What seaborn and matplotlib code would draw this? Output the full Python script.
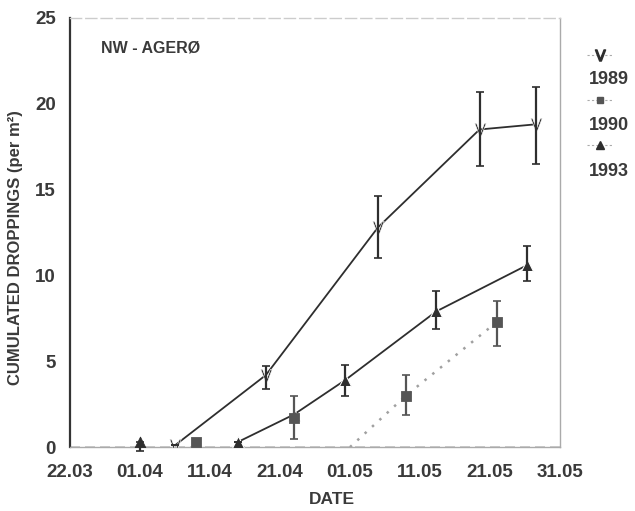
import numpy as np
import pandas as pd
import seaborn as sns
import matplotlib.pyplot as plt
from matplotlib.lines import Line2D

# days counted from 22.03
tick_days = [0, 10, 20, 30, 40, 50, 60, 70]
tick_labels = ['22.03', '01.04', '11.04', '21.04', '01.05', '11.05', '21.05', '31.05']

days_1989 = [15, 28, 44, 58.5, 66.5]
vals_1989 = [0.1, 4.2, 12.8, 18.5, 18.8]
lo_1989 = [0.1, 3.4, 11.0, 16.4, 16.5]
hi_1989 = [0.1, 4.7, 14.6, 20.7, 21.0]

days_1990 = [18, 32, 48, 61]
vals_1990 = [0.3, 1.7, 3.0, 7.3]
lo_1990 = [0.3, 0.5, 1.9, 5.9]
hi_1990 = [0.3, 3.0, 4.2, 8.5]
dotted_days_1990 = [40, 48, 61]
dotted_vals_1990 = [0.0, 3.0, 7.3]

days_1993 = [10, 24, 32, 39.3, 52.3, 65.3]
vals_1993 = [0.3, 0.3, 1.9, 3.9, 7.9, 10.6]
lo_1993 = [-0.2, 0.3, 1.9, 3.0, 6.9, 9.7]
hi_1993 = [0.3, 0.3, 1.9, 4.8, 9.1, 11.7]

sns.set_style('white')
plt.rcParams['font.family'] = ['Liberation Sans', 'DejaVu Sans']

dark = '#2e2e2e'
grey = '#555555'
txt = '#3a3a3a'

fig = plt.figure(figsize=(6.35, 5.11), dpi=100)
ax = fig.add_axes([0.110, 0.125, 0.772, 0.840])

df89 = pd.DataFrame({'day': days_1989, 'val': vals_1989})
df93 = pd.DataFrame({'day': days_1993, 'val': vals_1993})
df90 = pd.DataFrame({'day': days_1990, 'val': vals_1990})
dfdot = pd.DataFrame({'day': dotted_days_1990, 'val': dotted_vals_1990})

# baseline dashes
ax.axhline(0, color='#c4c4c4', lw=1.2, ls=(0, (6, 3)), zorder=1)

sns.lineplot(data=dfdot, x='day', y='val', ax=ax, color='#a0a0a0', lw=1.8,
             linestyle=(0, (1, 3)), zorder=2)
sns.lineplot(data=df89, x='day', y='val', ax=ax, color=dark, lw=1.3,
             marker=r'$\mathrm{V}$', markersize=9, markeredgewidth=0.4, zorder=3)
# first 1993 point stands alone, line starts at the second
sns.lineplot(data=df93.iloc[1:], x='day', y='val', ax=ax, color=dark, lw=1.3,
             marker='^', markersize=8, zorder=3)
sns.scatterplot(data=df93.iloc[:1], x='day', y='val', ax=ax, color=dark, marker='^',
                s=60, edgecolor=dark, zorder=3)
sns.scatterplot(data=df90, x='day', y='val', ax=ax, color=grey, marker='s',
                s=55, edgecolor=grey, zorder=4)

for d, v, lo, hi, c in [(days_1989, vals_1989, lo_1989, hi_1989, dark),
                        (days_1990, vals_1990, lo_1990, hi_1990, grey),
                        (days_1993, vals_1993, lo_1993, hi_1993, dark)]:
    v = np.array(v)
    err = [v - np.array(lo), np.array(hi) - v]
    ax.errorbar(d, v, yerr=err, fmt='none', ecolor=c, elinewidth=1.6,
                capsize=3, capthick=1.2, zorder=3, clip_on=False)

ax.set_xlim(0, 70)
ax.set_ylim(0, 25)
ax.set_xticks(tick_days)
ax.set_xticklabels(tick_labels)
ax.set_yticks([0, 5, 10, 15, 20, 25])
ax.tick_params(axis='both', labelsize=13.5, colors=txt, length=0)
ax.tick_params(axis='x', pad=12)
ax.tick_params(axis='y', pad=10)
for lab in ax.get_xticklabels() + ax.get_yticklabels():
    lab.set_fontweight('bold')
ax.set_xlabel('DATE', fontsize=12.5, color=txt, fontweight='bold')
ax.set_ylabel('CUMULATED DROPPINGS (per m²)', fontsize=12, color=txt,
              fontweight='bold')
ax.xaxis.set_label_coords(0.535, -0.105)
ax.yaxis.set_label_coords(-0.095, 0.465)

for s in ['top', 'right', 'bottom']:
    ax.spines[s].set_color('#aaaaaa')
    ax.spines[s].set_linewidth(1.0)
ax.spines['top'].set_color('#cccccc')
ax.spines['top'].set_linestyle((0, (8, 3)))
ax.spines['left'].set_color('#333333')
ax.spines['left'].set_linewidth(1.6)

ax.text(0.063, 0.93, 'NW - AGERØ', transform=ax.transAxes, fontsize=11.5,
        color=txt, fontweight='bold', va='center')

# custom legend on the right
leg = [('1989', r'$\mathrm{V}$', dark, 8), ('1990', 's', grey, 5), ('1993', '^', dark, 6)]
for i, (lab, mk, c, ms) in enumerate(leg):
    ym = 1 - (55 + i * 45) / 511
    yl = 1 - (80 + i * 46) / 511
    fig.add_artist(Line2D([0.925, 0.945, 0.965], [ym, ym, ym], color='#aaaaaa', lw=0.8,
                          ls=(0, (2, 2)), marker=mk, markevery=[1], markersize=ms,
                          markerfacecolor=c, markeredgecolor=c,
                          transform=fig.transFigure))
    fig.text(0.927, yl, lab, fontsize=13, color=txt, fontweight='bold',
             ha='left', va='center')

fig.savefig('out.png', dpi=100)
